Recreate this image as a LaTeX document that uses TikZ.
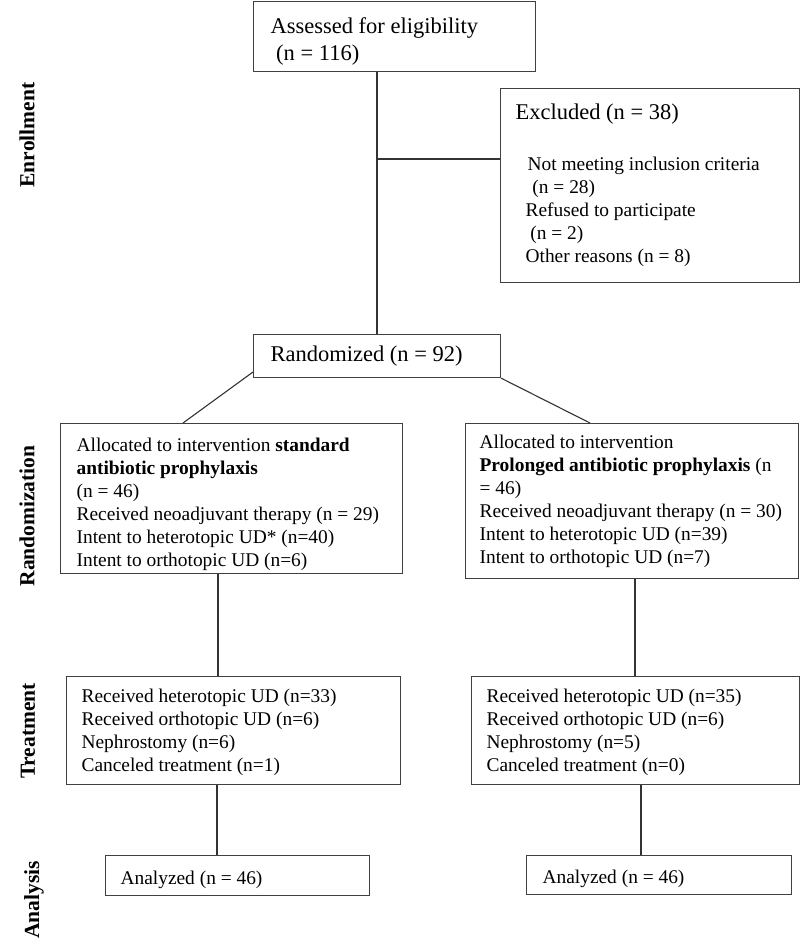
\documentclass[tikz,border=0pt]{standalone}
\usepackage{fontspec}
\setmainfont{Liberation Serif}
\begin{document}
\begin{tikzpicture}[x=1pt,y=-1pt,
  box/.style={draw=black!75, line width=1.2pt, inner ysep=0pt, align=flush left, anchor=north west,
    execute at begin node={\spaceskip=0pt\xspaceskip=0pt}},
  conn/.style={draw=black!80, line width=1.1pt},
  side/.style={rotate=90, font=\fontsize{21.5}{24}\selectfont\bfseries, anchor=center},
  big/.style={font=\fontsize{22.5}{27}\selectfont},
  norm/.style={font=\fontsize{19.4}{23}\selectfont}]
\useasboundingbox (0,0) rectangle (800,948);

% boxes: minimum width W, inner xsep p, text width W-2p
\node[box,big,minimum width=282pt,minimum height=70pt,inner xsep=17pt,text width=248pt] (top) at (253,1)
 {\rule{0pt}{25pt}Assessed for eligibility\\\hspace{0.25em}(n = 116)};

\node[box,norm,minimum width=299pt,minimum height=194pt,inner xsep=15pt,text width=269pt] (excl) at (500,88)
 {{\fontsize{22.5}{27}\selectfont Excluded (n = 38)}\\[28pt]
  \hspace{12pt}Not meeting inclusion criteria\\
  \hspace{12pt}\hspace{0.25em}(n = 28)\\
  \hspace{10pt}Refused to participate\\
  \hspace{10pt}\hspace{0.25em}(n = 2)\\
  \hspace{10pt}Other reasons (n = 8)};

\node[box,big,minimum width=247pt,minimum height=43pt,inner xsep=17pt,text width=213pt] (rand) at (253,334)
 {Randomized (n = 92)};

\node[box,norm,minimum width=342pt,minimum height=150pt,inner xsep=16pt,text width=310pt] (alL) at (60,423)
 {\rule{0pt}{24pt}Allocated to intervention \textbf{standard}\\
  \textbf{antibiotic prophylaxis}\\
  (n = 46)\\
  Received neoadjuvant therapy (n = 29)\\
  Intent to heterotopic UD* (n=40)\\
  Intent to orthotopic UD (n=6)};

\node[box,norm,minimum width=333pt,minimum height=155pt,inner xsep=14pt,text width=305pt] (alR) at (465,423)
 {Allocated to intervention\\
  \textbf{Prolonged antibiotic prophylaxis} (n\\
  = 46)\\
  Received neoadjuvant therapy (n = 30)\\
  Intent to heterotopic UD (n=39)\\
  Intent to orthotopic UD (n=7)};

\node[box,norm,minimum width=334pt,minimum height=108pt,inner xsep=15pt,text width=304pt] (trL) at (66,676)
 {\strut Received heterotopic UD (n=33)\\
  Received orthotopic UD (n=6)\\
  Nephrostomy (n=6)\\
  Canceled treatment (n=1)};

\node[box,norm,minimum width=328pt,minimum height=108pt,inner xsep=15pt,text width=298pt] (trR) at (471,676)
 {\strut Received heterotopic UD (n=35)\\
  Received orthotopic UD (n=6)\\
  Nephrostomy (n=5)\\
  Canceled treatment (n=0)};

\node[box,norm,minimum width=264pt,minimum height=40pt,inner xsep=15pt,text width=234pt] (anL) at (105,855)
 {\rule{0pt}{21pt}Analyzed (n = 46)};

\node[box,norm,minimum width=265pt,minimum height=39pt,inner xsep=16pt,text width=233pt] (anR) at (526,855)
 {\rule{0pt}{21pt}Analyzed (n = 46)};

% side labels
\node[side] (lenr) at (27,135) {Enrollment};
\node[side] (lran) at (27,516) {Randomization};
\node[side] (ltre) at (28,731) {Treatment};
\node[side] (lana) at (34,900) {Analysis};

% coordinates for connector columns
\coordinate (cx) at (377,0);
\coordinate (br) at (377,159);
\coordinate (dl) at (183,423);
\coordinate (dr) at (590,423);
\coordinate (lv1) at (218,0);
\coordinate (lv2) at (217,0);
\coordinate (rv1) at (635,0);
\coordinate (rv2) at (641,0);
\coordinate (rs) at (253,372);

% connectors
\draw[conn] (top.south -| cx) -- (rand.north -| cx);
\draw[conn] (br) -- (br -| excl.west);
\draw[conn] (rs) -- (dl);
\draw[conn] (rand.south east) -- (dr);
\draw[conn] (alL.south -| lv1) -- (trL.north -| lv1);
\draw[conn] (trL.south -| lv2) -- (anL.north -| lv2);
\draw[conn] (alR.south -| rv1) -- (trR.north -| rv1);
\draw[conn] (trR.south -| rv2) -- (anR.north -| rv2);
\end{tikzpicture}
\end{document}
